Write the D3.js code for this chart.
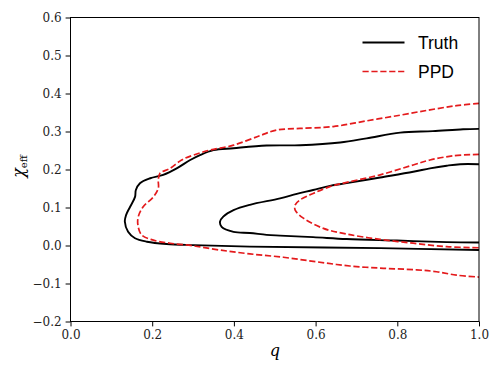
<!DOCTYPE html>
<html>
<head>
<meta charset="utf-8">
<script src="https://cdn.jsdelivr.net/npm/d3@7"></script>
<style>
  body { margin: 0; background: #fff; }
</style>
</head>
<body>
<div id="container"></div>
<script>
/* CONSTANTS AND GLOBALS */
const width = 500,
  height = 375,
  margin = { top: 17.5, bottom: 53.5, left: 70.5, right: 21 };

// contour paths, as [q, chi_eff]
const truthOuter = [
  [1.0, 0.307], [0.961, 0.306], [0.887, 0.301], [0.807, 0.297], [0.725, 0.282],
  [0.660, 0.271], [0.562, 0.264], [0.480, 0.263], [0.399, 0.256], [0.350, 0.251],
  [0.317, 0.238], [0.293, 0.225], [0.260, 0.203], [0.227, 0.186], [0.195, 0.177],
  [0.170, 0.164], [0.160, 0.146], [0.158, 0.128], [0.146, 0.102], [0.136, 0.080],
  [0.133, 0.063], [0.141, 0.036], [0.158, 0.019], [0.187, 0.010], [0.235, 0.004],
  [0.301, 0.001], [0.439, -0.003], [0.758, -0.007], [1.0, -0.012]
];
const truthInner = [
  [1.0, 0.214], [0.954, 0.214], [0.921, 0.210], [0.880, 0.203], [0.839, 0.194],
  [0.758, 0.179], [0.676, 0.164], [0.635, 0.157], [0.594, 0.146], [0.554, 0.136],
  [0.513, 0.124], [0.439, 0.107], [0.399, 0.093], [0.374, 0.076], [0.366, 0.063],
  [0.370, 0.049], [0.399, 0.036], [0.439, 0.033], [0.480, 0.028], [0.513, 0.026],
  [0.594, 0.022], [0.676, 0.017], [0.799, 0.013], [0.921, 0.009], [1.0, 0.008]
];
const ppdOuter = [
  [1.0, 0.374], [0.945, 0.368], [0.880, 0.357], [0.807, 0.343], [0.725, 0.328],
  [0.643, 0.313], [0.562, 0.308], [0.505, 0.304], [0.466, 0.290], [0.399, 0.264],
  [0.341, 0.251], [0.301, 0.238], [0.272, 0.225], [0.244, 0.203], [0.219, 0.190],
  [0.215, 0.172], [0.215, 0.151], [0.203, 0.128], [0.178, 0.102], [0.166, 0.076],
  [0.165, 0.054], [0.174, 0.028], [0.203, 0.014], [0.244, 0.006], [0.301, -0.001],
  [0.366, -0.012], [0.439, -0.022], [0.521, -0.031], [0.603, -0.043], [0.684, -0.054],
  [0.766, -0.060], [0.847, -0.064], [0.896, -0.069], [0.945, -0.078], [1.0, -0.083]
];
const ppdInner = [
  [1.0, 0.240], [0.937, 0.236], [0.880, 0.225], [0.839, 0.212], [0.758, 0.186],
  [0.676, 0.166], [0.635, 0.155], [0.594, 0.137], [0.562, 0.120], [0.550, 0.107],
  [0.550, 0.093], [0.570, 0.072], [0.619, 0.045], [0.676, 0.030], [0.758, 0.016],
  [0.839, 0.006], [0.921, -0.003], [1.0, -0.006]
];

const xTicks = [0.0, 0.2, 0.4, 0.6, 0.8, 1.0];
const yTicks = [-0.2, -0.1, 0.0, 0.1, 0.2, 0.3, 0.4, 0.5, 0.6];
const legendLabels = ["Truth", "PPD"];

const red = "#e41a1c";
const serif = "DejaVu Serif";

const svg = d3.select("#container").append("svg")
  .attr("width", width)
  .attr("height", height);

const x = d3.scaleLinear().domain([0, 1]).range([margin.left, width - margin.right]);
const y = d3.scaleLinear().domain([-0.2, 0.6]).range([height - margin.bottom, margin.top]);

svg.append("clipPath").attr("id", "plot")
  .append("rect")
  .attr("x", x(0)).attr("y", y(0.6))
  .attr("width", x(1) - x(0)).attr("height", y(-0.2) - y(0.6));

const line = d3.line()
  .x(d => x(d[0]))
  .y(d => y(d[1]))
  .curve(d3.curveCatmullRom.alpha(0.5));

const g = svg.append("g").attr("clip-path", "url(#plot)");

// truth contours
[truthOuter, truthInner].forEach(c => {
  g.append("path")
    .attr("d", line(c))
    .attr("fill", "none")
    .attr("stroke", "#000")
    .attr("stroke-width", 1.9);
});

// PPD contours
[ppdOuter, ppdInner].forEach(c => {
  g.append("path")
    .attr("d", line(c))
    .attr("fill", "none")
    .attr("stroke", red)
    .attr("stroke-width", 1.7)
    .attr("stroke-dasharray", "6.2,2.7");
});

// AXES
const fmt = d3.format(".1f");
const styleAxis = a => {
  a.attr("font-family", serif).attr("font-size", 12);
  a.select(".domain").remove();
  a.selectAll("text").attr("fill", "#222");
};
svg.append("g")
  .attr("transform", `translate(0,${y(-0.2)})`)
  .call(d3.axisBottom(x).tickValues(xTicks).tickFormat(fmt).tickSize(4.9).tickPadding(4).tickSizeOuter(0))
  .call(styleAxis);

svg.append("g")
  .attr("transform", `translate(${x(0)},0)`)
  .call(d3.axisLeft(y).tickValues(yTicks).tickFormat(fmt).tickSize(4.9).tickPadding(4).tickSizeOuter(0))
  .call(styleAxis);

svg.append("rect")
  .attr("x", x(0)).attr("y", y(0.6))
  .attr("width", x(1) - x(0)).attr("height", y(-0.2) - y(0.6))
  .attr("fill", "none")
  .attr("stroke", "#000")
  .attr("stroke-width", 1);

// axis labels
svg.append("text")
  .attr("x", (x(0) + x(1)) / 2)
  .attr("y", 356)
  .attr("text-anchor", "middle")
  .attr("font-family", serif)
  .attr("font-style", "italic")
  .attr("font-size", 16)
  .text("q");

const yl = svg.append("text")
  .attr("transform", `translate(24,${(y(-0.2) + y(0.6)) / 2 - 3}) rotate(-90)`)
  .attr("text-anchor", "middle")
  .attr("font-family", serif)
  .attr("font-size", 16);
yl.append("tspan").attr("font-style", "italic").text("χ");
yl.append("tspan").attr("dy", 3).attr("font-size", 10).text("eff");

// LEGEND
const leg = svg.append("g");
legendLabels.forEach((lab, i) => {
  const ly = 42.5 + i * 29;
  leg.append("line")
    .attr("x1", 362.5).attr("x2", 404.5)
    .attr("y1", ly).attr("y2", ly)
    .attr("stroke", i === 0 ? "#000" : red)
    .attr("stroke-width", i === 0 ? 1.9 : 1.7)
    .attr("stroke-dasharray", i === 0 ? null : "6.2,2.7");
  leg.append("text")
    .attr("x", 418)
    .attr("y", ly + 6.5)
    .attr("font-family", "Liberation Sans")
    .attr("font-size", 17.5)
    .text(lab);
});
</script>
</body>
</html>
